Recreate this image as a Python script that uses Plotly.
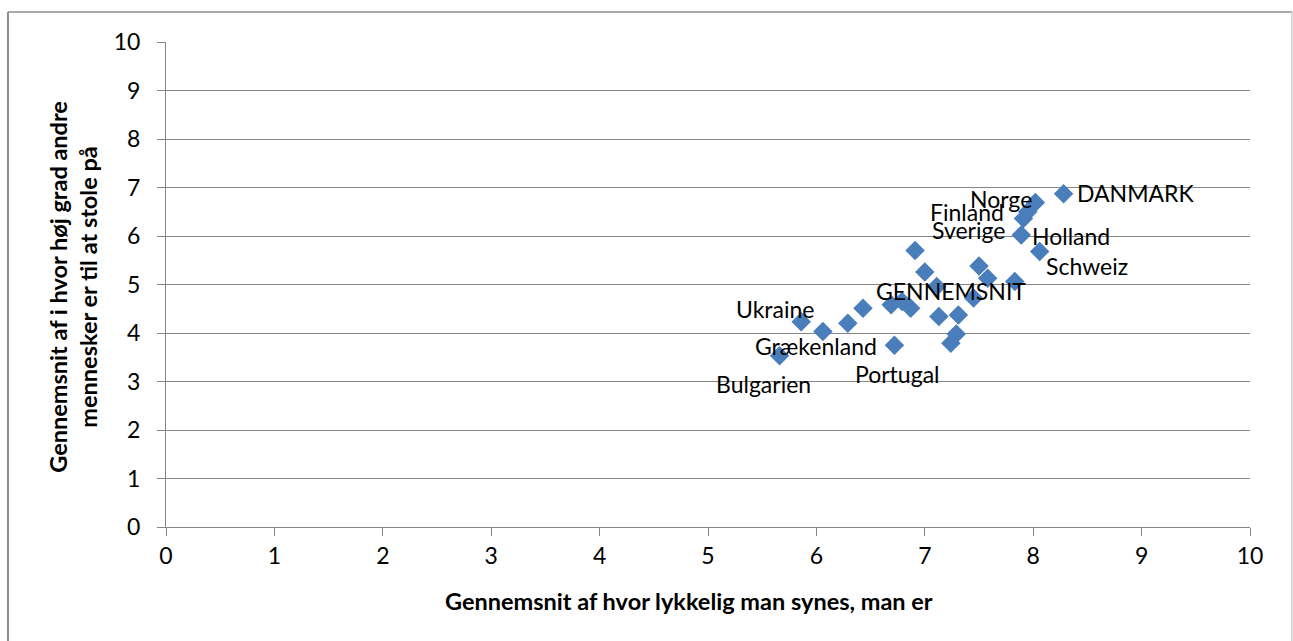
import plotly.graph_objects as go

# Average happiness (x) and average trust in other people (y) per country
lykke = [5.66, 5.86, 6.06, 6.29, 6.43, 6.72, 6.69, 6.79, 6.87, 6.91, 7.00, 7.11, 7.13,
         7.31, 7.29, 7.24, 7.50, 7.58, 7.45, 7.83, 8.06, 7.89, 7.91, 7.95, 8.02, 8.28]
tillid = [3.53, 4.23, 4.03, 4.20, 4.51, 3.75, 4.58, 4.65, 4.51, 5.70, 5.26, 4.96, 4.34,
          4.37, 3.98, 3.79, 5.38, 5.13, 4.72, 5.06, 5.68, 6.02, 6.36, 6.50, 6.69, 6.87]
etiketter = ["Bulgarien", "Ukraine", "Grækenland", "", "", "Portugal", "", "", "", "", "",
             "GENNEMSNIT", "", "", "", "", "", "", "", "", "Schweiz", "Holland", "Sverige",
             "Finland", "Norge", "DANMARK"]

akse_ticks = list(range(0, 11))

# label placement: (xanchor, xshift, yshift) in pixels
placering = {
    "DANMARK": ("left", 11, 1),
    "Norge": ("right", -1, 4),
    "Finland": ("right", -22, 0),
    "Sverige": ("right", -16, -11),
    "Holland": ("left", 9, -1),
    "Schweiz": ("left", 4, -14),
    "GENNEMSNIT": ("center", 14, -5),
    "Ukraine": ("center", -26, 13),
    "Grækenland": ("center", -7, -14),
    "Bulgarien": ("center", -16, -28),
    "Portugal": ("center", 3, -29),
}

FONT = "Lato"
GRID = "#868686"

fig = go.Figure()
fig.add_trace(go.Scatter(
    x=lykke, y=tillid, mode="markers",
    marker=dict(symbol="diamond", size=15, color="#4A7EBB", line=dict(width=0)),
    hoverinfo="x+y", showlegend=False,
))

annotations = []
for xv, yv, lab in zip(lykke, tillid, etiketter):
    if not lab:
        continue
    xa, xs, ys = placering[lab]
    annotations.append(dict(
        x=xv, y=yv, xref="x", yref="y", text=lab, showarrow=False,
        xanchor=xa, yanchor="middle", xshift=xs, yshift=ys,
        font=dict(family=FONT, size=23, color="#000000"),
    ))

annotations.append(dict(
    x=0.4825, y=-0.152, xref="paper", yref="paper", showarrow=False,
    text="<b>Gennemsnit af hvor lykkelig man synes, man er</b>",
    xanchor="center", yanchor="middle",
    font=dict(family=FONT, size=23.5, color="#000000"),
))
annotations.append(dict(
    x=-0.085, y=0.495, xref="paper", yref="paper", showarrow=False, textangle=-90,
    text="<b>Gennemsnit af i hvor høj grad andre<br>mennesker er til at stole på</b>",
    xanchor="center", yanchor="middle",
    font=dict(family=FONT, size=23.5, color="#000000"),
))

fig.update_layout(
    width=1293, height=641,
    margin=dict(l=166, r=43, t=42, b=114),
    paper_bgcolor="white", plot_bgcolor="white",
    annotations=annotations,
    shapes=[
        dict(type="line", xref="paper", yref="paper", x0=-0.1458, x1=-0.1458,
             y0=-0.3, y1=1.062, line=dict(color="#8C8C8C", width=2)),
        dict(type="line", xref="paper", yref="paper", x0=-0.1458, x1=1.0387,
             y0=1.062, y1=1.062, line=dict(color="#8C8C8C", width=1.5)),
        dict(type="line", xref="paper", yref="paper", x0=1.0387, x1=1.0387,
             y0=-0.3, y1=1.062, line=dict(color="#D0D0D0", width=1.5)),
    ],
)

fig.update_xaxes(
    range=[0, 10], tickvals=akse_ticks, showgrid=False, zeroline=False,
    showline=True, linecolor=GRID, linewidth=1,
    ticks="outside", ticklen=8, tickcolor=GRID, tickwidth=1,
    tickfont=dict(family=FONT, size=23, color="#000000"),
)
fig.update_yaxes(
    range=[0, 10], tickvals=akse_ticks, showgrid=True, gridcolor=GRID, gridwidth=1,
    zeroline=False, showline=True, linecolor=GRID, linewidth=1,
    ticks="outside", ticklen=8, tickcolor=GRID, tickwidth=1,
    ticklabelstandoff=12,
    tickfont=dict(family=FONT, size=23, color="#000000"),
)

fig.write_html("out.html")
